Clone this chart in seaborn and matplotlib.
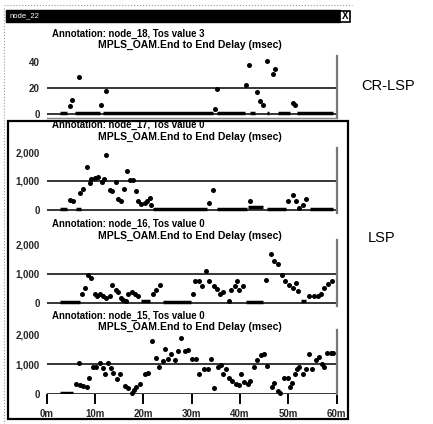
import numpy as np
import pandas as pd
import matplotlib
matplotlib.use("Agg")
import matplotlib.pyplot as plt
import seaborn as sns
from matplotlib.patches import Rectangle
from matplotlib.lines import Line2D

# ---------------- data ----------------
# Panel 1: CR-LSP, node_18, Tos 3  (msec)
cr18_t = [4.9, 5.3, 6.7, 11.3, 12.4, 34.8, 35.2, 41.2, 41.9, 43.6, 44.1, 44.7,
          45.5, 46.9, 47.2, 51.0, 51.4]
cr18_v = [6.1, 10.5, 28.6, 7.0, 18.0, 4.0, 19.0, 22.0, 37.5, 16.7, 9.7, 7.0,
          41.0, 30.5, 34.7, 8.3, 7.0]
cr18_flat_start = [2.8, 5.9, 11.7, 35.2, 42.0, 45.6, 47.9, 51.7]
cr18_flat_end   = [4.2, 11.05, 34.5, 41.0, 43.1, 46.1, 50.3, 59.3]
cr18_flat_level = [1.0, 1.0, 1.0, 1.0, 1.0, 1.0, 1.0, 1.0]

# Panel 2: LSP, node_17, Tos 0
n17_t = [4.9, 5.5, 6.9, 7.6, 8.3, 9.0, 9.3, 10.0, 10.7, 11.4, 11.9, 12.4, 13.1,
         13.6, 14.3, 14.8, 15.4, 16.0, 16.7, 17.2, 17.9, 18.5, 18.9, 19.6, 20.3,
         20.8, 21.3, 21.6, 33.7, 34.4, 42.0, 49.9, 50.9, 51.6, 52.3, 53.0, 53.6]
n17_v = [350, 300, 590, 730, 1470, 940, 1080, 1120, 1150, 965, 1080, 1900, 680,
         670, 965, 376, 300, 730, 1350, 1035, 1035, 650, 300, 210, 235,
         300, 410, 180, 235, 680, 300, 300, 530, 300, 60, 180, 376]
n17_flat_start = [2.8, 6.2, 22.1, 35.2, 41.7, 45.5, 54.4]
n17_flat_end   = [4.2, 7.2, 33.1, 41.4, 44.8, 49.6, 59.3]
n17_flat_level = [25, 20, 20, 20, 100, 20, 20]

# Panel 3: LSP, node_16, Tos 0
n16_t = [7.3, 7.9, 8.6, 9.1, 10.0, 10.5, 11.0, 11.7, 12.4, 13.1, 13.6, 14.3,
         14.8, 15.3, 15.8, 16.4, 16.9, 17.6, 18.3, 18.9, 22.0, 22.7, 23.5, 30.3,
         30.8, 31.5, 32.2, 33.0, 33.7, 34.7, 35.2, 35.8, 36.5, 37.7, 38.2, 38.9,
         39.4, 39.9, 40.7, 45.4, 46.4, 47.1, 47.8, 48.7, 49.4, 50.1, 50.9, 51.5,
         52.0, 54.3, 55.4, 56.1, 56.7, 57.4, 58.1, 59.0]
n16_v = [307, 511, 943, 852, 307, 227, 307, 227, 170, 250, 602, 455,
         375, 170, 114, 57, 307, 375, 307, 227, 307, 455, 602, 307,
         739, 761, 568, 1100, 739, 568, 489, 307, 375, 57, 455, 568,
         739, 455, 568, 795, 1670, 1420, 1330, 966, 739, 602, 511, 682,
         398, 227, 227, 227, 307, 511, 648, 761]
n16_flat_start = [2.8, 19.6, 24.1, 41.3, 52.6]
n16_flat_end   = [6.9, 21.3, 29.9, 44.7, 53.7]
n16_flat_level = [30, 57, 30, 30, 57]

# Panel 4: LSP, node_15, Tos 0
n15_t = [6.2, 6.8, 6.9, 7.6, 8.3, 8.8, 9.6, 10.3, 11.0, 11.7, 12.1, 12.8, 13.4,
         13.8, 14.5, 15.2, 16.2, 16.9, 17.6, 18.0, 18.6, 19.3, 20.3, 21.0, 21.9,
         22.6, 23.3, 24.0, 24.4, 25.1, 25.8, 26.5, 27.2, 27.9, 28.6, 29.2, 30.1,
         31.0, 31.6, 32.5, 33.4, 34.1, 34.7, 35.4, 36.1, 36.5, 37.2, 37.8, 38.3,
         39.2, 39.7, 40.2, 40.9, 41.6, 42.1, 43.0, 43.6, 44.4, 44.9, 45.5, 46.6,
         47.1, 47.8, 48.3, 49.2, 49.9, 50.4, 50.8, 51.3, 51.8, 52.3, 53.0, 53.7,
         54.3, 54.9, 55.7, 56.3, 56.9, 57.4, 57.9, 58.8, 59.2]
n15_v = [341, 1023, 295, 261, 227, 523, 909, 886, 1023, 864, 682, 1023, 864,
         716, 511, 659, 261, 205, 34, 148, 227, 341, 659, 716, 1773,
         1205, 886, 1114, 1511, 1170, 1318, 1136, 1432, 1852, 1432, 1477, 1170,
         1170, 682, 830, 830, 1170, 205, 886, 977, 659, 830, 545, 432,
         341, 295, 659, 409, 318, 432, 886, 1136, 1284, 1318, 943, 227,
         375, 91, 34, 545, 523, 227, 375, 659, 830, 909, 682, 830,
         1341, 830, 1136, 1227, 1000, 909, 1364, 1364, 1364]
n15_flat_start = [2.8]
n15_flat_end   = [5.5]
n15_flat_level = [35]

panel_titles = ["Annotation: node_18, Tos value 3", "Annotation: node_17, Tos value 0",
                "Annotation: node_16, Tos value 0", "Annotation: node_15, Tos value 0"]
metric_title = "MPLS_OAM.End to End Delay (msec)"
yticks_cr = [0, 20, 40]
yticklabels_cr = ["0", "20", "40"]
yticks_lsp = [0, 1000, 2000]
yticklabels_lsp = ["0", "1,000", "2,000"]
xticks = [0, 10, 20, 30, 40, 50, 60]
xticklabels = ["0m", "10m", "20m", "30m", "40m", "50m", "60m"]

# ---------------- figure ----------------
sns.set_theme(style="white")
plt.rcParams['font.family'] = ['Liberation Sans', 'DejaVu Sans']

W, H = 433, 424
fig = plt.figure(figsize=(W / 100, H / 100), dpi=100)
fig.patch.set_facecolor("white")

def fx(x):
    return x / W

def fy(y):
    return 1 - y / H

X0, X1 = 46.5, 336.7

panels = [
    dict(t=cr18_t, v=cr18_v, fs=cr18_flat_start, fe=cr18_flat_end, fl=cr18_flat_level,
         top=56, bot=118, zero=114, k=1.3, ticks=yticks_cr, labels=yticklabels_cr,
         grid=[0, 20], title=panel_titles[0], ty1=34, ty2=45),
    dict(t=n17_t, v=n17_v, fs=n17_flat_start, fe=n17_flat_end, fl=n17_flat_level,
         top=148, bot=213, zero=210, k=0.029, ticks=yticks_lsp, labels=yticklabels_lsp,
         grid=[0, 1000], title=panel_titles[1], ty1=125, ty2=137),
    dict(t=n16_t, v=n16_v, fs=n16_flat_start, fe=n16_flat_end, fl=n16_flat_level,
         top=240, bot=306, zero=303, k=0.0295, ticks=yticks_lsp, labels=yticklabels_lsp,
         grid=[0, 1000], title=panel_titles[2], ty1=224, ty2=236),
    dict(t=n15_t, v=n15_v, fs=n15_flat_start, fe=n15_flat_end, fl=n15_flat_level,
         top=330, bot=394, zero=394, k=0.030, ticks=yticks_lsp, labels=yticklabels_lsp,
         grid=[0, 1000], title=panel_titles[3], ty1=316, ty2=327),
]

for i, p in enumerate(panels):
    ax = fig.add_axes([fx(X0), fy(p["bot"]), fx(X1 - X0), (p["bot"] - p["top"]) / H])
    ax.set_facecolor("none")
    ylo = -(p["bot"] - p["zero"]) / p["k"]
    yhi = (p["zero"] - p["top"]) / p["k"]
    # flat runs of dense samples
    seg_rows = []
    for j, (s, e, l) in enumerate(zip(p["fs"], p["fe"], p["fl"])):
        seg_rows.append(dict(t=s, v=l, seg=j))
        seg_rows.append(dict(t=e, v=l, seg=j))
    seg_df = pd.DataFrame(seg_rows)
    sns.lineplot(data=seg_df, x="t", y="v", units="seg", estimator=None, ax=ax,
                 color="black", lw=2.5, solid_capstyle="butt", legend=False)
    pts = pd.DataFrame(dict(t=p["t"], v=p["v"]))
    sns.scatterplot(data=pts, x="t", y="v", ax=ax, color="black", s=13,
                    linewidth=0, clip_on=False, legend=False)
    for g in p["grid"]:
        ax.axhline(g, color="black", lw=1.1, zorder=1)
    ax.set_xlim(0, 60)
    ax.set_ylim(ylo, yhi)
    ax.set_xlabel("")
    ax.set_ylabel("")
    ax.set_yticks(p["ticks"])
    ax.set_yticklabels(p["labels"])
    ax.tick_params(axis="y", length=0, pad=5, labelsize=7)
    for lab in ax.get_yticklabels():
        lab.set_fontweight("bold")
    for sp in ["top", "left"]:
        ax.spines[sp].set_visible(False)
    ax.spines["right"].set_color("#777777")
    ax.spines["right"].set_linewidth(1.6)
    if i == 3:
        ax.spines["bottom"].set_visible(False)
        ax.set_xticks(xticks)
        ax.set_xticklabels(xticklabels)
        ax.tick_params(axis="x", length=7, width=1.4, direction="out",
                       color="black", pad=4, labelsize=7, bottom=True)
        for lab in ax.get_xticklabels():
            lab.set_fontweight("bold")
    else:
        ax.set_xticks([])
        if i == 0:
            ax.spines["bottom"].set_color("#888888")
            ax.spines["bottom"].set_linewidth(1.0)
        else:
            ax.spines["bottom"].set_visible(False)
    fig.text(fx(52), fy(p["ty1"]), p["title"], ha="left", va="center",
             fontsize=6.9, fontweight="bold", color="black")
    fig.text(fx(98), fy(p["ty2"]), metric_title, ha="left", va="center",
             fontsize=7.5, fontweight="bold", color="black")

# window title bar
fig.add_artist(Rectangle((fx(6), fy(22)), fx(340 - 6), 12 / H,
                         transform=fig.transFigure, color="black", zorder=5))
fig.add_artist(Rectangle((fx(340), fy(21.5)), fx(10), 10.5 / H,
                         transform=fig.transFigure, facecolor="white",
                         edgecolor="black", lw=1.2, zorder=5))
fig.text(fx(345), fy(16.3), "X", ha="center", va="center", fontsize=7,
         fontweight="bold", color="black", zorder=6)
fig.text(fx(10), fy(16), "node_22", ha="left", va="center", fontsize=5.5,
         color="white", zorder=6)

# frame around LSP panels
fig.add_artist(Rectangle((fx(8), fy(419)), fx(348 - 8), (419 - 121) / H,
                         transform=fig.transFigure, fill=False,
                         edgecolor="black", lw=1.6, zorder=4))

# dotted window edges
fig.add_artist(Line2D([fx(4), fx(4)], [fy(8), fy(424)], transform=fig.transFigure,
                      color="#999999", lw=0.8, ls=":"))
fig.add_artist(Line2D([fx(4), fx(352)], [fy(5), fy(5)], transform=fig.transFigure,
                      color="#999999", lw=0.8, ls=":"))

# side labels
fig.text(fx(388), fy(86), "CR-LSP", ha="center", va="center", fontsize=10.5,
         color="black")
fig.text(fx(382), fy(238), "LSP", ha="center", va="center", fontsize=10.5,
         color="black")

fig.savefig("out.png", dpi=100, facecolor="white")
